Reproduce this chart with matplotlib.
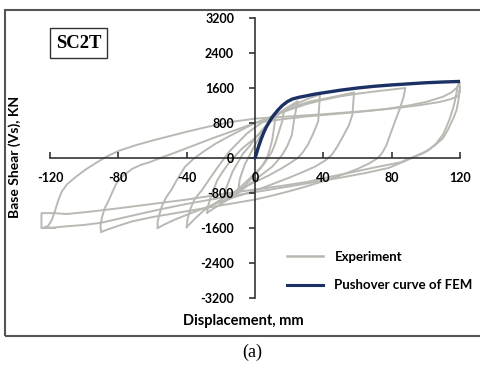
import matplotlib
matplotlib.use("Agg")
import matplotlib.pyplot as plt
from matplotlib.lines import Line2D
from matplotlib.patches import Rectangle

# Experiment: hysteresis cycles, displacement (mm) / base shear (KN)
# each cycle = reload branch + unload branch
c1_x = [0, 1, 2, 3.5, 5, 7, 9, 12, 11, 10, 8.5, 7, 5, 3, 0, -3, -5, -8, -10]
c1_y = [0, 150, 300, 450, 600, 740, 850, 950, 650, 400, 180, 0, -130, -250, -380, -500, -600, -720, -800]

c2_x = [-10, -9.5, -9, -7.5, -6, -4, -2, 0, 3, 6, 9, 12, 15, 17,
        16, 14, 12, 10, 7.5, 5, 2, 0, -4, -8, -12, -15, -18, -20]
c2_y = [-800, -650, -500, -320, -150, 0, 150, 300, 500, 700, 840, 950, 1040, 1100,
        850, 600, 350, 150, 0, -150, -270, -350, -500, -650, -780, -900, -980, -1050]

c3_x = [-20, -19, -17, -15, -13, -10, -7, -3, 0, 4, 8, 12, 15, 18, 21, 25,
        24, 23, 21.6, 19, 16, 13, 10, 5, 0, -5, -10, -15, -20, -24, -28]
c3_y = [-1050, -880, -700, -500, -300, -100, 100, 280, 450, 630, 800, 950, 1050, 1130, 1200, 1300,
        1100, 900, 533, 280, 76, -70, -200, -350, -500, -650, -800, -930, -1050, -1150, -1250]

c4_x = [-28, -27.5, -26, -24, -22, -19, -16, -12, -8, -4, 0, 4, 8, 12, 15, 20, 25, 32, 38,
        37.5, 37, 34, 31, 28, 25, 20, 15, 8, 0, -8, -15, -22, -30, -35, -40]
c4_y = [-1250, -1100, -900, -700, -500, -320, -150, 30, 200, 330, 450, 620, 800, 950, 1050, 1170, 1250, 1370, 1450,
        1150, 838, 550, 305, 130, 0, -130, -250, -400, -550, -700, -850, -1000, -1200, -1380, -1580]

c5_x = [-40, -39.5, -38, -35.5, -31, -27, -23, -19, -15, -10, -5, 0, 5, 10, 17, 25, 32, 40, 50, 58,
        57.5, 57, 55, 51, 48, 45, 41, 35, 28, 20, 10, 0, -10, -20, -30, -40, -47, -52, -57]
c5_y = [-1580, -1400, -1180, -950, -731, -500, -274, -60, 150, 350, 550, 700, 830, 950, 1080, 1200, 1290, 1350, 1430, 1500,
        1250, 990, 750, 457, 250, 76, -60, -200, -320, -450, -600, -750, -870, -1000, -1150, -1300, -1410, -1500, -1600]

c6_x = [-57, -57, -56, -54.5, -52, -49, -46, -43, -41, -36, -30, -23, -15, -7, 0, 10, 20, 30, 40, 50, 60, 70, 80, 88,
        87, 85, 82, 79, 77, 74.5, 72, 67, 60, 50, 40, 30, 20, 10, 0, -15, -30, -45, -60, -72, -80, -86, -90]
c6_y = [-1600, -1450, -1300, -1100, -900, -731, -520, -330, -200, -20, 150, 330, 500, 660, 800, 950, 1100, 1230, 1330, 1410, 1470, 1520, 1565, 1600,
        1400, 1150, 840, 520, 300, 120, 0, -120, -250, -400, -530, -650, -760, -860, -950, -1050, -1150, -1250, -1350, -1450, -1550, -1630, -1690]

c7_x = [-90, -90.5, -89.5, -88, -86, -83.5, -81, -77, -72, -67, -62, -54, -45, -35, -25, -12, 0, 15, 30, 45, 60, 75, 90, 100, 110, 115, 118, 120,
        119, 118, 117, 116, 114, 112, 110, 106, 102, 98, 94, 86, 78, 65, 50, 35, 20, 10, 0, -20, -40, -55, -70, -80, -90, -100, -110, -118, -124]
c7_y = [-1690, -1550, -1350, -1150, -1000, -780, -570, -400, -250, -160, -100, 20, 150, 300, 450, 630, 800, 880, 950, 1000, 1050, 1110, 1200, 1280, 1400, 1500, 1600, 1720,
        1690, 1500, 1300, 1143, 900, 700, 533, 330, 190, 100, 38, -100, -229, -340, -450, -550, -650, -715, -780, -910, -1050, -1170, -1300, -1390, -1480, -1530, -1560, -1590, -1600]

c8_x = [-124, -121, -119, -117, -115, -113, -110, -105, -99, -93, -87, -80, -70, -60, -50, -40, -27, -13, 0, 20, 40, 60, 80, 95, 108, 115, 119, 120, 120,
        119.5, 119, 118, 116, 113, 110, 105, 100, 93, 85, 72, 60, 45, 30, 15, 0, -20, -40, -60, -80, -95, -110, -118, -125, -125, -117]
c8_y = [-1600, -1550, -1420, -1200, -950, -760, -600, -434, -260, -110, 30, 160, 290, 400, 500, 600, 720, 830, 900, 950, 1000, 1060, 1130, 1200, 1280, 1350, 1420, 1550, 1650,
        1450, 1300, 1100, 900, 650, 450, 280, 150, 30, -100, -200, -300, -420, -550, -640, -720, -830, -950, -1050, -1150, -1220, -1280, -1260, -1260, -1600, -1600]

cycles = [(c1_x, c1_y), (c2_x, c2_y), (c3_x, c3_y), (c4_x, c4_y),
          (c5_x, c5_y), (c6_x, c6_y), (c7_x, c7_y), (c8_x, c8_y)]

# FEM pushover curve
push_x = [0, 1, 2, 3.5, 5, 6.5, 8, 9.5, 11, 13.5, 16, 19, 22, 26, 30, 35, 40, 50, 60, 70, 80, 90, 100, 110, 120]
push_y = [0, 120, 250, 420, 570, 700, 800, 900, 980, 1100, 1200, 1290, 1350, 1390, 1420, 1460, 1490, 1550, 1600,
          1640, 1670, 1695, 1720, 1737, 1750]

x_ticks = [-120, -80, -40, 0, 40, 80, 120]
y_ticks = [-3200, -2400, -1600, -800, 0, 800, 1600, 2400, 3200]

GRAY = "#b9b9b3"
NAVY = "#1c3163"
W, H = 481, 368


def main():
    fig = plt.figure(figsize=(W / 100, H / 100), dpi=100)
    ax = fig.add_axes([50 / W, 1 - 298 / H, 410 / W, 280 / H])

    for cx, cy in cycles:
        ax.plot(cx, cy, color=GRAY, lw=1.4, clip_on=False, zorder=2)
    ax.plot(push_x, push_y, color=NAVY, lw=2.4, solid_capstyle="round", zorder=3)

    ax.set_xlim(-120, 120)
    ax.set_ylim(-3200, 3200)
    ax.set_axisbelow(False)  # tick labels stay readable over the loops

    # axes crossing at the origin
    for s in ["top", "right"]:
        ax.spines[s].set_visible(False)
    ax.spines["left"].set_position(("data", 0))
    ax.spines["bottom"].set_position(("data", 0))
    for s in ["left", "bottom"]:
        ax.spines[s].set_color("#333333")
        ax.spines[s].set_linewidth(1.2)
    ax.patch.set_alpha(0)

    tick_font = dict(family="Lato", weight="bold", size=9)
    ax.set_xticks(x_ticks)
    ax.set_yticks(y_ticks)
    ax.set_xticklabels([str(v) for v in x_ticks], **tick_font)
    ax.set_yticklabels([str(v) for v in y_ticks], **tick_font)
    ax.tick_params(axis="x", direction="in", length=4, width=1.2, color="#333333", pad=10)
    ax.tick_params(axis="y", direction="out", length=4, width=1.2, color="#333333", pad=11)

    fig.text(15 / W, 1 - 157 / H, "Base Shear (Vs), KN", rotation=90, ha="center", va="center",
             family="Lato", weight="bold", size=10)
    fig.text(243 / W, 1 - 321 / H, "Displacement, mm", ha="center", va="center",
             family="Lato", weight="bold", size=10.5)

    # SC2T label box
    fig.text(78.5 / W, 1 - 43 / H, "SC2T", ha="center", va="center", family="Liberation Serif",
             weight="bold", size=13.5,
             bbox=dict(boxstyle="square,pad=0.33", facecolor="white", edgecolor="#333333", lw=1.0))

    handles = [Line2D([], [], color=GRAY, lw=1.8), Line2D([], [], color=NAVY, lw=2.2)]
    fig.legend(handles, ["Experiment", "Pushover curve of FEM"], loc="upper left",
               bbox_to_anchor=(287 / W, 1 - 251 / H), frameon=False,
               prop=dict(family="Lato", weight="bold", size=9.5),
               handlelength=2.7, handletextpad=0.9, labelspacing=1.25,
               borderpad=0, borderaxespad=0)

    # outer frame and caption
    fig.patches.append(Rectangle((5 / W, 1 - 336 / H), 1.0, 326 / H, transform=fig.transFigure,
                                 fill=False, edgecolor="#555555", lw=1.5))
    fig.text(252 / W, 1 - 352 / H, "(a)", ha="center", va="center", family="Liberation Serif", size=13)

    fig.savefig("out.png", dpi=100)


if __name__ == "__main__":
    main()
